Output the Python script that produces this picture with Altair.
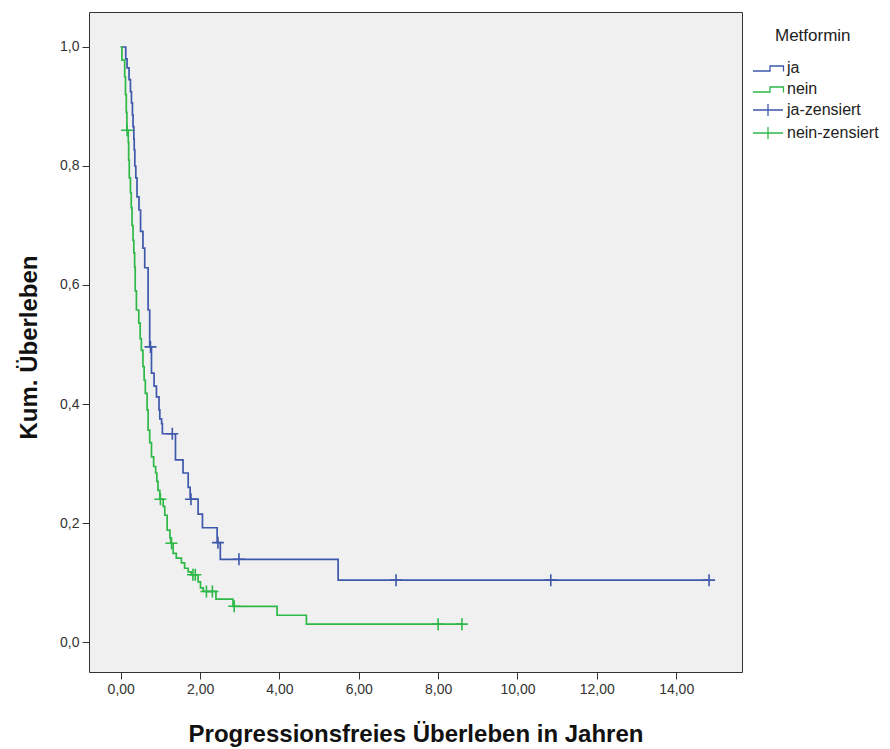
import altair as alt
import pandas as pd

# Kaplan-Meier estimates, group "ja" (Metformin): step times and survival after each step
ja_event_t = [0.0, 0.126, 0.16, 0.21, 0.245, 0.27, 0.295, 0.31, 0.33, 0.34, 0.355, 0.38,
              0.41, 0.46, 0.50, 0.56, 0.605, 0.69, 0.73, 0.775, 0.84, 0.90, 0.965, 0.985,
              1.03, 1.05, 1.38, 1.57, 1.70, 1.75, 1.95, 2.06, 2.43, 2.51, 5.48]
ja_event_s = [1.0, 0.98, 0.965, 0.945, 0.925, 0.906, 0.886, 0.866, 0.845, 0.827, 0.80, 0.78,
              0.748, 0.726, 0.69, 0.662, 0.629, 0.558, 0.496, 0.452, 0.43, 0.412, 0.39, 0.375,
              0.367, 0.35, 0.306, 0.284, 0.26, 0.24, 0.215, 0.192, 0.167, 0.139, 0.104]
ja_censored_t = [0.75, 1.30, 1.77, 2.45, 2.98, 6.94, 10.84, 14.83]

# Group "nein"
nein_event_t = [0.0, 0.03, 0.10, 0.12, 0.14, 0.155, 0.19, 0.20, 0.215, 0.245, 0.265, 0.285,
                0.31, 0.33, 0.35, 0.365, 0.395, 0.455, 0.49, 0.52, 0.56, 0.59, 0.62, 0.665,
                0.69, 0.73, 0.775, 0.83, 0.88, 0.91, 0.94, 0.985, 1.07, 1.11, 1.17, 1.24,
                1.26, 1.32, 1.40, 1.53, 1.61, 1.70, 1.78, 1.95, 2.01, 2.08, 2.40, 2.83,
                3.94, 4.68]
nein_event_s = [1.0, 0.978, 0.95, 0.92, 0.89, 0.86, 0.84, 0.81, 0.78, 0.755, 0.73, 0.70,
                0.675, 0.654, 0.63, 0.59, 0.558, 0.536, 0.51, 0.49, 0.463, 0.44, 0.418, 0.39,
                0.356, 0.335, 0.311, 0.295, 0.284, 0.27, 0.255, 0.24, 0.228, 0.213, 0.188, 0.175,
                0.166, 0.149, 0.141, 0.133, 0.124, 0.118, 0.113, 0.101, 0.091, 0.085, 0.072, 0.060,
                0.045, 0.030]
nein_censored_t = [0.16, 1.00, 1.28, 1.82, 1.88, 2.16, 2.31, 2.86, 8.00, 8.60]

groups = ["ja", "nein"]
censored_labels = ["ja-zensiert", "nein-zensiert"]
colors = ["#3E58AC", "#2EB848"]

x_ticks = [0, 2, 4, 6, 8, 10, 12, 14]
y_ticks = [0.0, 0.2, 0.4, 0.6, 0.8, 1.0]


def survival_at(t, ev_t, ev_s):
    s = ev_s[0]
    for et, es in zip(ev_t, ev_s):
        if et <= t:
            s = es
    return s


curve_rows, cens_rows = [], []
for name, ev_t, ev_s, c_t in [("ja", ja_event_t, ja_event_s, ja_censored_t),
                              ("nein", nein_event_t, nein_event_s, nein_censored_t)]:
    for t, s in zip(ev_t, ev_s):
        curve_rows.append({"Zeit": t, "Surv": s, "Metformin": name})
    for t in c_t:
        s = survival_at(t, ev_t, ev_s)
        curve_rows.append({"Zeit": t, "Surv": s, "Metformin": name})
        cens_rows.append({"Zeit": t, "Surv": s, "Zensiert": name + "-zensiert"})

curves = pd.DataFrame(curve_rows).sort_values(["Metformin", "Zeit"])
censored = pd.DataFrame(cens_rows)

x_scale = alt.Scale(domain=[-0.8, 15.66], nice=False, zero=False)
y_scale = alt.Scale(domain=[-0.0504, 1.0588], nice=False, zero=False)

STEP_ICON = "M-3,0.6H0.4V-0.4H3.1V0.7"
CROSS_ICON = "M-3,0H3M0,-1.2V1.2"
CENSOR_MARK = "M-1,0H1M0,-1V1"

legend_common = dict(title=None, orient="none", legendX=671,
                     labelFontSize=16, labelFont="Liberation Sans", labelColor="#222222",
                     labelOffset=11, symbolSize=100, symbolStrokeWidth=1.3,
                     rowPadding=5, padding=0)

x_axis = alt.Axis(values=x_ticks,
                  labelExpr="replace(format(datum.value, '.2f'), '.', ',')",
                  title="Progressionsfreies Überleben in Jahren",
                  titleY=62, titleBaseline="middle")
y_axis = alt.Axis(values=y_ticks,
                  labelExpr="replace(format(datum.value, '.1f'), '.', ',')",
                  title="Kum. Überleben",
                  titleX=-60, titleY=335, titleBaseline="middle")

lines = alt.Chart(curves).mark_line(interpolate="step-after", strokeWidth=1.7).encode(
    x=alt.X("Zeit:Q", scale=x_scale, axis=x_axis),
    y=alt.Y("Surv:Q", scale=y_scale, axis=y_axis),
    color=alt.Color("Metformin:N", scale=alt.Scale(domain=groups, range=colors),
                    legend=alt.Legend(legendY=48, symbolType=STEP_ICON, **legend_common)),
    order="Zeit:Q",
)

marks = alt.Chart(censored).mark_point(shape=CENSOR_MARK, size=144, filled=False,
                                       strokeWidth=1.6, opacity=1).encode(
    x="Zeit:Q",
    y="Surv:Q",
    stroke=alt.Stroke("Zensiert:N", scale=alt.Scale(domain=censored_labels, range=colors),
                      legend=alt.Legend(legendY=90, symbolType=CROSS_ICON, **legend_common)),
)

chart = alt.layer(lines, marks).properties(
    width=653, height=660,
    autosize=alt.AutoSizeParams(type="none"),
    padding={"left": 89, "top": 12, "right": 148, "bottom": 77},
    background="white",
    title=alt.TitleParams("Metformin", anchor="start", frame="group", orient="top",
                          dx=686, dy=41, offset=0, baseline="middle", fontSize=17,
                          fontWeight="normal", font="Liberation Sans", color="#222222"),
).configure_view(
    fill="#F0F0F0", stroke="#333333", strokeWidth=1,
).configure_axis(
    grid=False, domain=False,
    tickColor="#333333", tickSize=7, tickWidth=1,
    labelFont="Liberation Sans", labelFontSize=14, labelColor="#333333", labelPadding=3,
    titleFont="Liberation Sans", titleFontSize=24, titleFontWeight="bold", titleColor="#111111",
)

chart.save("out.html", embed_options={"renderer": "svg", "actions": False})
